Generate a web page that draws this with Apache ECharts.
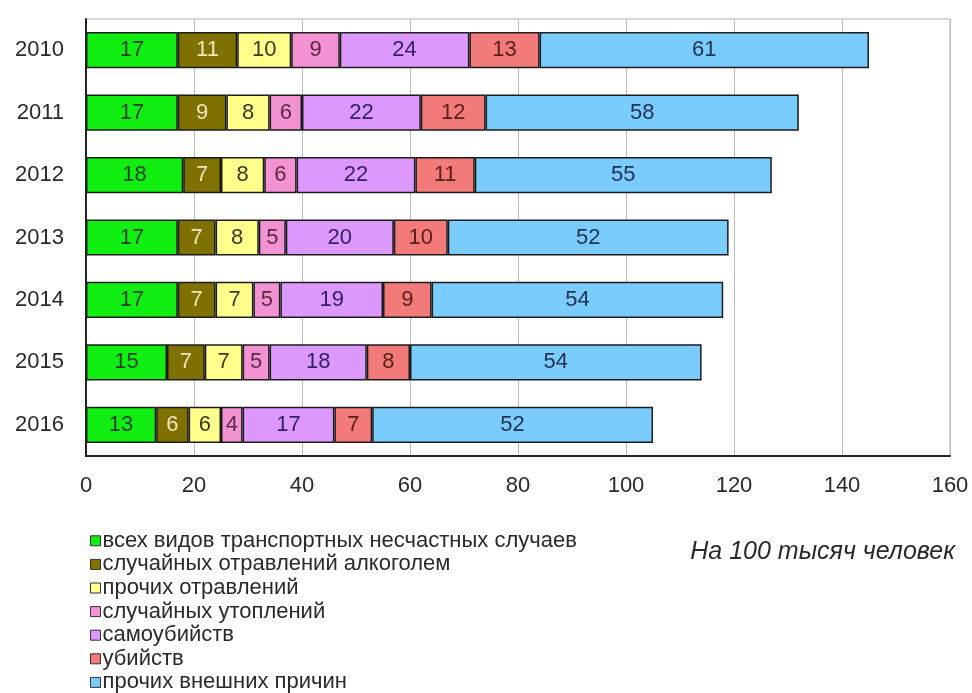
<!DOCTYPE html>
<html>
<head>
<meta charset="utf-8">
<script src="https://cdn.jsdelivr.net/npm/echarts@6/dist/echarts.min.js"></script>
<style>
  html, body { margin: 0; padding: 0; background: #fff; }
  #chart { width: 972px; height: 693px; }
</style>
</head>
<body>
<div id="chart"></div>
<script>
// Смертность от внешних причин, на 100 тысяч человек
const years = ['2010', '2011', '2012', '2013', '2014', '2015', '2016'];

const transport   = [17, 17, 18, 17, 17, 15, 13];
const alcohol     = [11, 9, 7, 7, 7, 7, 6];
const poisonOther = [10, 8, 8, 8, 7, 7, 6];
const drowning    = [9, 6, 6, 5, 5, 5, 4];
const suicide     = [24, 22, 22, 20, 19, 18, 17];
const homicide    = [13, 12, 11, 10, 9, 8, 7];
const otherCauses = [61, 58, 55, 52, 54, 54, 52];

const seriesNames = [
  'всех видов транспортных несчастных случаев',
  'случайных отравлений алкоголем',
  'прочих отравлений',
  'случайных утоплений',
  'самоубийств',
  'убийств',
  'прочих внешних причин'
];
const seriesData = [transport, alcohol, poisonOther, drowning, suicide, homicide, otherCauses];
const fillColors = ['#11ee11', '#7f7100', '#ffff8c', '#f292d2', '#dc98fc', '#f27a78', '#7accfc'];
const labelColors = ['#1f3f1f', '#efe6c0', '#3a3a20', '#5a2a45', '#352060', '#5a2020', '#1f3050'];

const xTicks = { min: 0, max: 160, interval: 20 };

const chart = echarts.init(document.getElementById('chart'), null, { renderer: 'canvas' });

const font = '"Liberation Sans", Arial, sans-serif';

chart.setOption({
  animation: false,
  backgroundColor: '#ffffff',
  textStyle: { fontFamily: font },
  grid: {
    left: 86, right: 22, top: 19, bottom: 237,
    show: true, borderColor: '#b0b0b0', borderWidth: 1
  },
  xAxis: {
    type: 'value',
    min: xTicks.min, max: xTicks.max, interval: xTicks.interval,
    axisLine: { show: true, lineStyle: { color: '#222', width: 2 } },
    axisTick: { show: false },
    splitLine: { show: true, lineStyle: { color: '#bdbdbd', width: 1 } },
    axisLabel: { color: '#2a2a2a', fontSize: 22, margin: 19, fontFamily: font }
  },
  yAxis: {
    type: 'category',
    data: years,
    inverse: true,
    axisLine: { show: true, lineStyle: { color: '#222', width: 2 } },
    axisTick: { show: false },
    splitLine: { show: false },
    axisLabel: { color: '#2a2a2a', fontSize: 22, margin: 22, fontFamily: font }
  },
  legend: {
    orient: 'vertical',
    left: 90, top: 529,
    height: 170,
    padding: 0,
    icon: 'rect',
    itemWidth: 10, itemHeight: 10,
    itemGap: 0,
    selectedMode: false,
    textStyle: { color: '#2a2a2a', fontSize: 22, lineHeight: 23.6, padding: [0, 0, 0, -3], fontFamily: font },
    itemStyle: { borderColor: '#333', borderWidth: 1 },
    data: seriesNames
  },
  graphic: [{
    type: 'text',
    right: 17, top: 540,
    style: {
      text: 'На 100 тысяч человек',
      font: 'italic 25px ' + font,
      fill: '#2a2a2a'
    }
  }],
  series: seriesNames.map((name, i) => ({
    name: name,
    type: 'bar',
    stack: 'total',
    barWidth: '58%',
    data: seriesData[i],
    itemStyle: { color: fillColors[i], borderColor: '#1c1c1c', borderWidth: 1.5 },
    label: {
      show: true,
      position: 'inside',
      color: labelColors[i],
      fontSize: 22,
      fontFamily: font
    }
  }))
});
</script>
</body>
</html>
